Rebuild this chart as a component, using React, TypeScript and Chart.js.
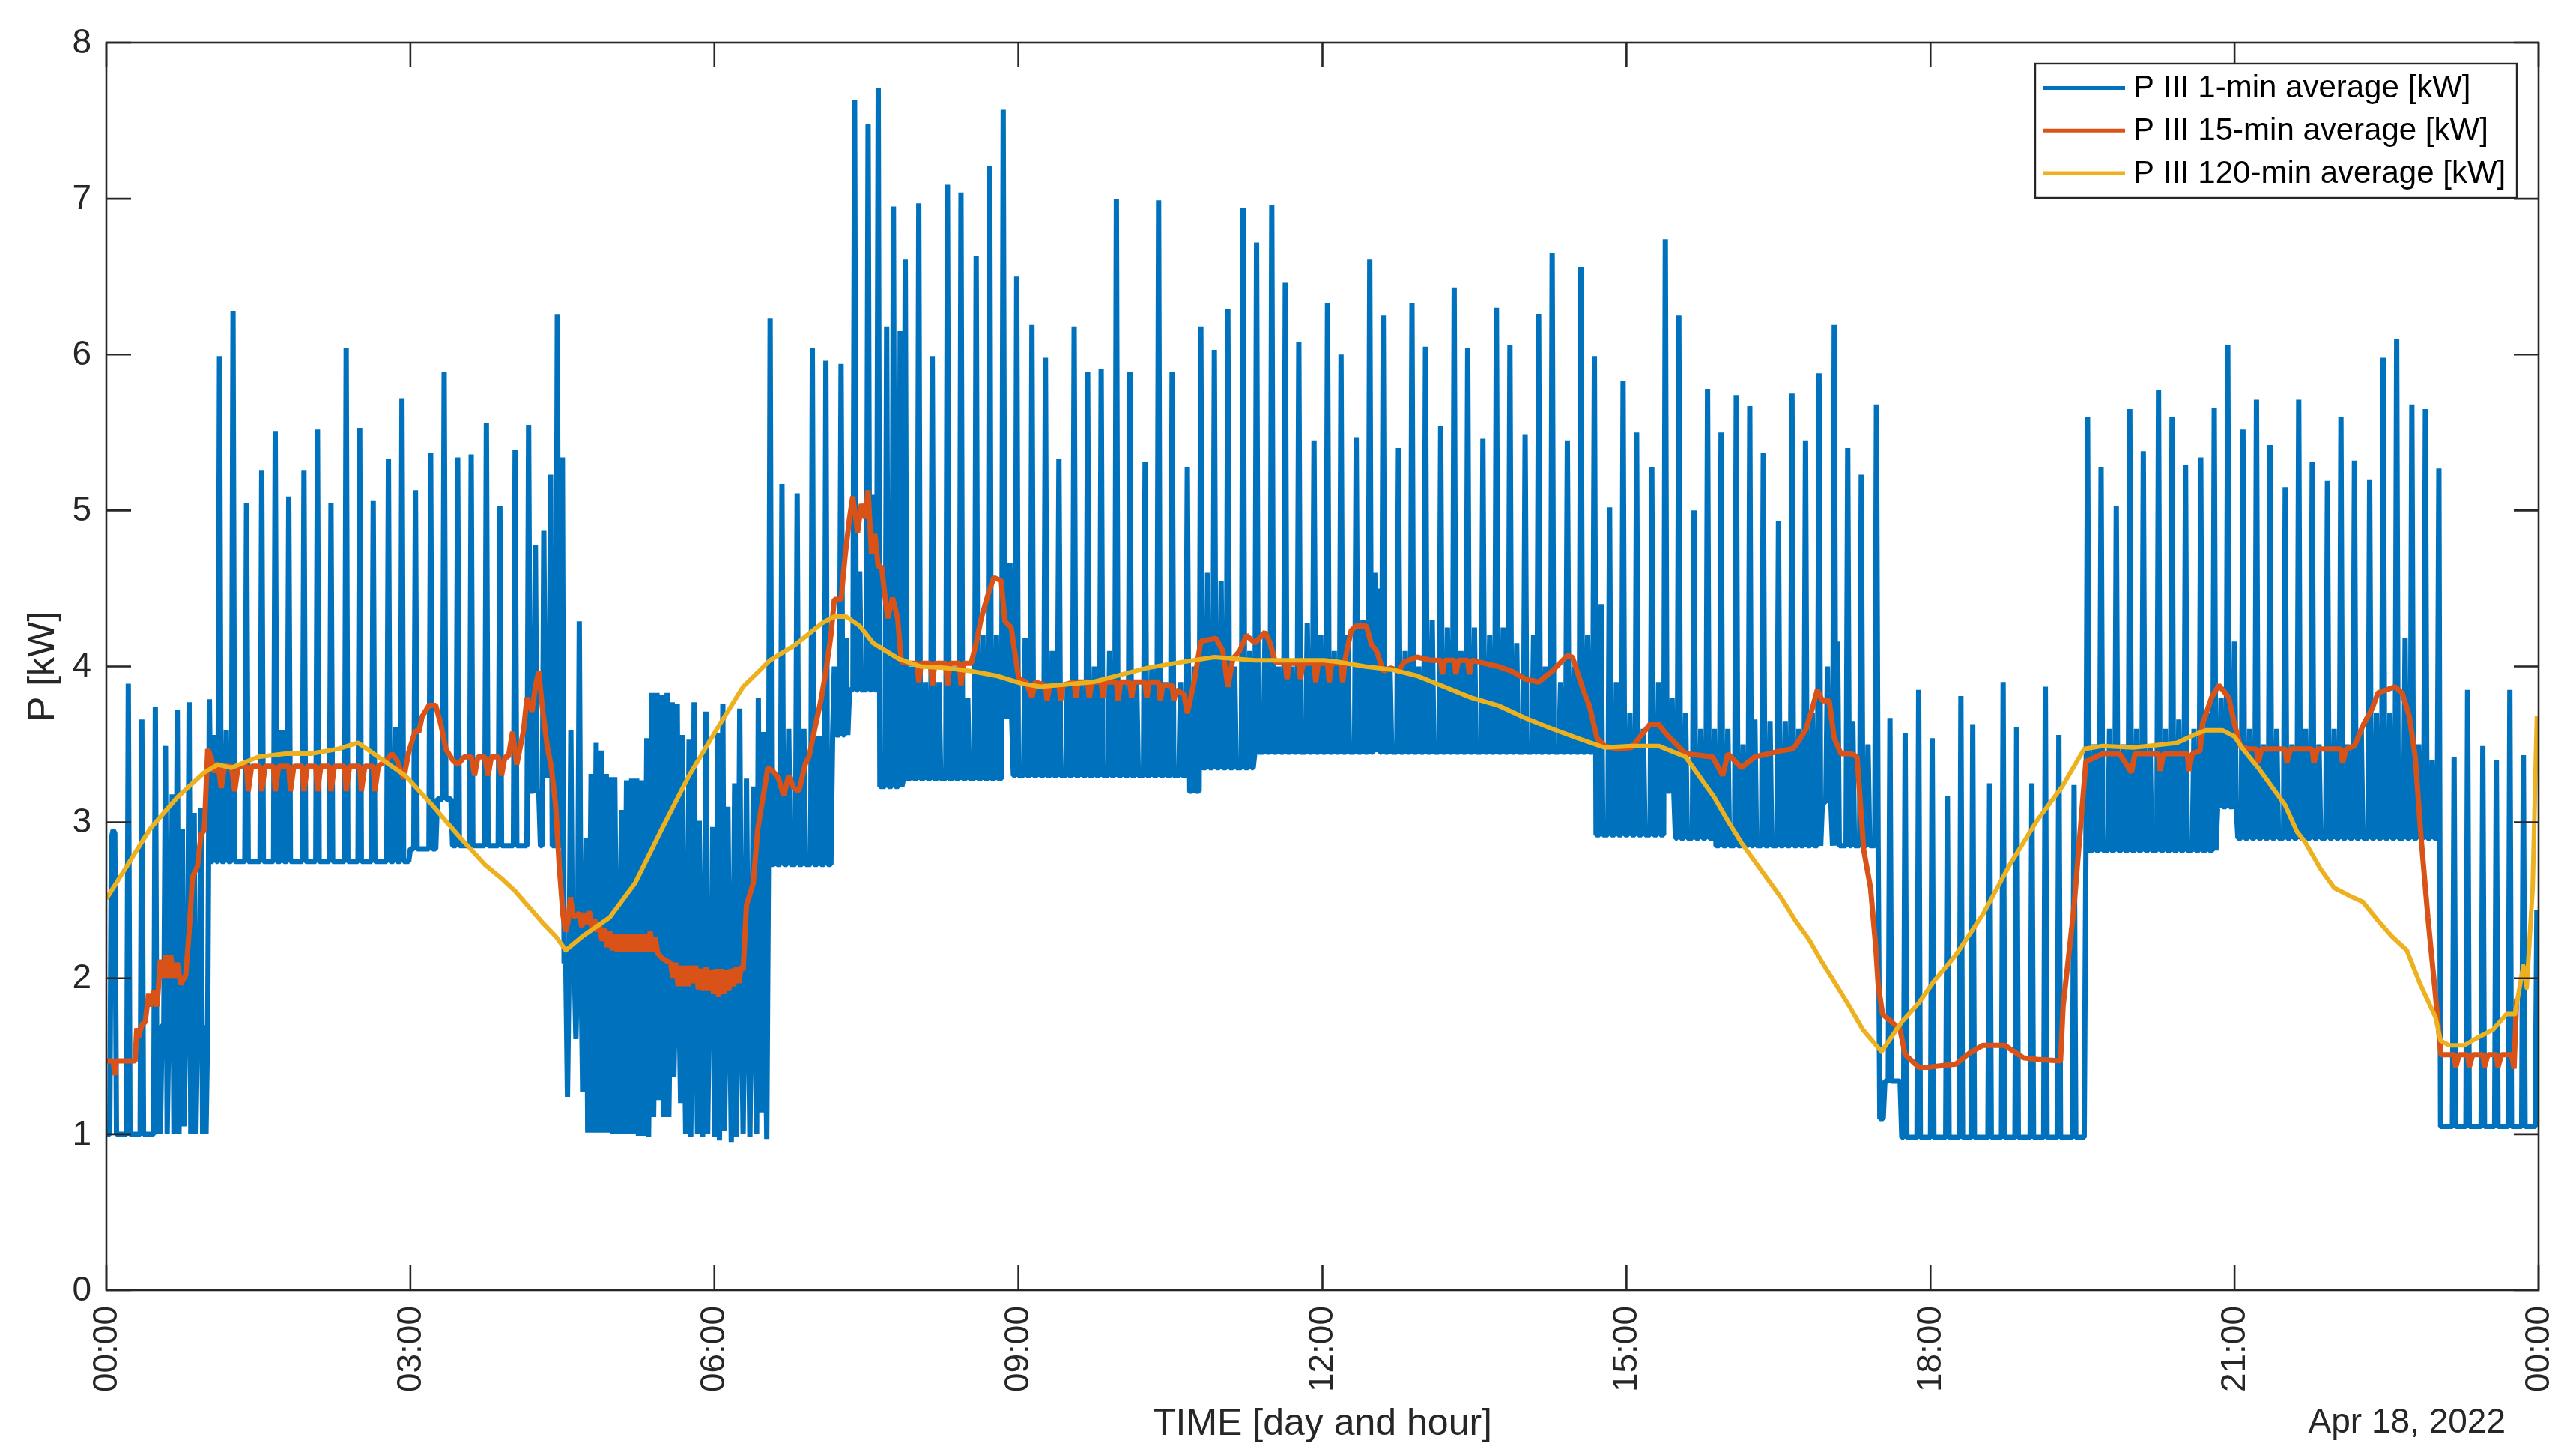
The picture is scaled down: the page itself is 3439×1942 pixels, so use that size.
import React, { useEffect, useRef } from "react";
import { Chart, registerables } from "chart.js";

Chart.register(...registerables);

const W = 3439;
const H = 1942;

// ---------- axis / text data ----------
const X_TICKS = [0, 180, 360, 540, 720, 900, 1080, 1260, 1440];
const X_TICK_LABELS = ["00:00", "03:00", "06:00", "09:00", "12:00", "15:00", "18:00", "21:00", "00:00"];
const Y_TICKS = [0, 1, 2, 3, 4, 5, 6, 7, 8];
const SERIES_LABELS = [
  "P III 1-min average [kW]",
  "P III 15-min average [kW]",
  "P III 120-min average [kW]",
];
const X_TITLE = "TIME [day and hour]";
const Y_TITLE = "P [kW]";
const DATE_LABEL = "Apr 18, 2022";

// ---------- 1-min series: baseline levels (minute where level starts) ----------
const BASE_START = [0, 31, 61, 180, 196, 205, 251, 257, 259, 263, 271, 320, 392, 430, 440, 458, 472, 531, 537, 640, 648, 680, 882, 924, 929, 952, 1016, 1022, 1050, 1053, 1063, 1172, 1250, 1262, 1382];
const BASE_LEVEL = [1.0, 1.7, 2.75, 2.83, 3.15, 2.85, 3.2, 2.85, 3.3, 2.85, 2.1, 1.9, 2.73, 3.56, 3.85, 3.23, 3.28, 3.68, 3.3, 3.2, 3.35, 3.45, 2.92, 3.2, 2.9, 2.85, 3.13, 2.85, 1.1, 1.34, 0.98, 2.82, 3.1, 2.9, 1.05];

// ---------- 1-min series: spike peaks ----------
const SPIKE_MIN = [
  3, 4, 5, 13, 21, 29, 35, 39, 42, 45, 49, 52, 56, 61,
  64, 67, 71, 75, 83, 92, 100, 104, 108, 117, 125, 133, 142, 150, 158, 167, 171, 175, 183, 192, 200, 208, 216, 225, 233, 242, 250, 254, 259, 263, 267, 270,
  275, 280, 284, 287, 290, 293, 296, 299, 301, 305, 308, 311, 314, 317, 320, 323, 326, 329, 332, 335, 338, 341, 345, 348, 351, 355, 359, 362, 365, 368, 372, 375, 379, 383, 386, 389,
  393, 396, 400, 404, 409, 413, 418, 422, 426, 431, 435, 438, 443, 446, 451, 454, 457, 462, 466, 470, 473, 477, 481, 485,
  489, 493, 498, 502, 506, 510, 515, 519, 523, 527, 531, 535, 539, 544, 548, 552, 556, 560, 564, 569, 573, 577, 581, 585, 589, 594, 598, 602, 606, 610, 615, 619, 623, 627, 631, 636, 640, 644, 648, 652, 656, 660, 664, 668, 673, 677, 681, 686, 690, 694, 698, 702, 706, 711, 715, 719, 723, 727, 731, 735, 740, 744, 748, 751, 753, 756, 760, 765, 769, 773, 777, 781, 785, 790, 794, 798, 802, 806, 810, 815, 819, 823, 827, 831, 835, 840, 845, 848, 852, 856, 861, 865, 869, 873, 877, 881,
  885, 890, 894, 898, 902, 906, 910, 915, 919, 923, 927, 931, 935, 940, 944, 948, 952, 956, 960, 965, 969, 973, 976, 981, 985, 990, 994, 998, 1002, 1006, 1010, 1014, 1019, 1023, 1025, 1031, 1034, 1039, 1043, 1048,
  1056, 1065, 1073, 1081, 1090, 1098, 1105, 1115, 1123, 1131, 1140, 1148, 1156, 1165,
  1173, 1177, 1181, 1186, 1190, 1194, 1198, 1202, 1206, 1210, 1215, 1219, 1223, 1227, 1231, 1236, 1240, 1244, 1248, 1252, 1256, 1260, 1265, 1269, 1273, 1277, 1281, 1285, 1290, 1294, 1298, 1302, 1306, 1310, 1315, 1319, 1323, 1327, 1331, 1335, 1340, 1344, 1348, 1352, 1356, 1361, 1365, 1369, 1373, 1377, 1381,
  1390, 1398, 1407, 1415, 1423, 1431, 1439,
];
const SPIKE_VAL = [
  2.9, 2.95, 2.93, 3.89, 3.66, 3.74, 3.49, 3.18, 3.72, 2.96, 3.77, 3.06, 3.09, 3.79,
  3.56, 5.99, 3.59, 6.28, 5.05, 5.26, 5.51, 3.59, 5.09, 5.26, 5.52, 5.05, 6.04, 5.53, 5.06, 5.33, 3.61, 5.72, 5.13, 5.37, 5.89, 5.34, 5.36, 5.56, 5.03, 5.39, 5.55, 4.78, 4.87, 5.23, 6.26, 5.34,
  3.59, 4.29, 2.9, 3.31, 3.51, 3.46, 3.31, 3.29, 3.29, 3.08, 3.27, 3.28, 3.28, 3.27, 3.54, 3.83, 3.83, 3.82, 3.83, 3.77, 3.76, 3.56, 3.53, 3.77, 3.01, 3.71, 2.97, 3.57, 3.76, 3.1, 3.25, 3.73, 3.28, 3.23, 3.8, 3.58,
  6.23, 3.3, 5.17, 3.6, 5.11, 3.6, 6.04, 3.55, 5.96, 4.0, 5.94, 4.18, 7.63, 4.61, 7.48, 5.1, 7.71, 6.18, 6.95, 6.15, 6.61, 4.0, 6.97, 3.9,
  5.99, 3.9, 7.09, 4.0, 7.04, 3.8, 6.63, 4.2, 7.21, 4.2, 7.57, 4.66, 6.5, 4.18, 6.19, 3.9, 5.98, 4.1, 5.33, 3.9, 6.18, 3.9, 5.89, 4.0, 5.91, 4.1, 7.0, 3.9, 5.89, 3.9, 5.31, 4.0, 6.99, 3.9, 5.89, 3.9, 5.28, 4.0, 6.18, 4.6, 6.03, 4.55, 6.29, 4.0, 6.94, 4.1, 6.72, 4.2, 6.96, 4.0, 6.46, 4.0, 6.08, 4.28, 5.45, 4.2, 6.33, 4.1, 6.0, 4.2, 5.47, 4.3, 6.61, 4.6, 4.5, 6.25, 4.0, 5.4, 4.1, 6.33, 4.0, 6.05, 4.3, 5.54, 4.25, 6.43, 4.1, 6.04, 4.25, 5.46, 4.2, 6.3, 4.25, 6.06, 4.15, 5.49, 4.2, 6.26, 4.0, 6.65, 3.9, 5.45, 4.0, 6.56, 4.2, 5.99,
  4.4, 5.02, 3.9, 5.83, 3.7, 5.5, 3.6, 5.28, 3.9, 6.74, 3.8, 6.25, 3.7, 5.0, 3.6, 5.78, 3.6, 5.5, 3.6, 5.74, 3.5, 5.67, 3.66, 5.37, 3.65, 4.93, 3.65, 5.75, 3.6, 5.45, 3.7, 5.88, 4.0, 6.19, 4.16, 5.4, 3.65, 5.23, 3.5, 5.68,
  3.67, 3.57, 3.85, 3.54, 3.17, 3.81, 3.63, 3.25, 3.9, 3.61, 3.25, 3.87, 3.56, 3.24,
  5.6, 3.5, 5.28, 3.6, 5.03, 3.5, 5.65, 3.6, 5.38, 3.5, 5.77, 3.6, 5.6, 3.66, 5.29, 3.6, 5.34, 3.7, 5.66, 3.8, 6.06, 4.16, 5.52, 3.6, 5.71, 3.5, 5.42, 3.6, 5.15, 3.5, 5.71, 3.6, 5.31, 3.5, 5.19, 3.6, 5.6, 3.5, 5.32, 3.6, 5.2, 3.7, 5.98, 3.7, 6.1, 4.18, 5.68, 3.5, 5.65, 3.4, 5.27,
  3.42, 3.85, 3.49, 3.4, 3.85, 3.43, 2.44,
];

// ---------- 1-min series: downward dips ----------
const DIP_MIN = [32, 36, 40, 43, 46, 50, 53, 57, 59, 273, 278, 282, 285, 288, 291, 294, 297, 300, 303, 306, 309, 312, 315, 318, 321, 324, 327, 330, 333, 336, 340, 343, 346, 350, 353, 356, 360, 363, 366, 370, 373, 377, 381, 385, 388, 391];
const DIP_VAL = [1.0, 1.0, 1.0, 1.0, 1.05, 1.0, 1.0, 1.0, 1.0, 1.24, 1.61, 1.27, 1.01, 1.01, 1.01, 1.01, 1.01, 1.0, 1.0, 1.0, 1.0, 1.0, 0.99, 0.99, 0.98, 1.11, 1.22, 1.11, 1.11, 1.37, 1.2, 1.0, 0.98, 1.0, 0.98, 1.0, 0.98, 0.96, 1.02, 0.95, 0.98, 1.0, 0.98, 1.0, 1.14, 0.97];

// ---------- 15-min average (vertices) ----------
const RED_MIN = [
  0, 4, 5, 6, 17, 18, 19, 21, 23, 25, 26, 28, 30, 32, 34, 35, 37, 38, 40, 42, 44, 47, 49, 51, 54, 56, 58, 60, 62, 64, 66, 68, 70, 74, 76, 78, 83, 84, 86, 91, 92, 94, 99, 100, 102, 108, 109, 111, 116, 117, 119, 124, 125, 127, 132, 133, 135, 141, 142, 144, 150, 151, 153, 158, 159, 161, 166, 169, 172, 176, 179, 183, 185, 187, 191, 195, 198, 201, 205, 208, 212, 216, 218, 220, 224, 226, 228, 232, 234, 236, 238, 240.5, 243, 247, 249, 252, 254, 256, 258, 261, 263.5, 266, 268.2, 270.4, 271.8, 273.3, 274.8, 276.3,
  278, 280, 281.5, 283, 284.5, 286, 287.5, 289, 290.5, 292, 293.5, 295, 296.5, 298, 299.5, 301, 302.5, 304, 305.5, 307, 308.5, 310, 311.5, 313, 314.5, 316, 317.5, 319, 320.5, 322, 323.5, 325, 326.5, 329, 332, 334, 335.5, 337, 338.5, 340, 341.5, 343, 344.5, 346, 347.5, 349, 350.5, 352, 353.5, 355, 356.5, 358, 359.5, 361, 362.5, 364, 365.5, 367, 368.5, 370, 371.5, 373, 374.5, 376, 377,
  379, 383, 385.7, 389.4, 391.6, 395.3, 398, 401, 404, 407, 410, 414, 416, 420, 423, 426, 429, 431, 435, 437.4, 440, 441.9, 444.8, 447, 449.3, 451, 453, 455, 457, 459, 461, 462.6, 465.5, 468.5, 470.7,
  475, 480, 481, 482.5, 488, 489, 490.5, 497, 498, 499.5, 505, 506, 507.5, 512, 515, 518, 522, 525.4, 529.8, 532, 535.7, 540.2, 544.6, 548, 550, 556, 557, 558.5, 564, 565, 566.5, 573, 574, 575.5, 581, 582, 583.5, 589, 590, 591.5, 598, 599, 600.5, 606, 607, 608.5, 615, 616, 617.5, 623, 624, 625.5, 631, 632, 633.5, 638, 640, 644, 648, 652, 657, 661, 664, 667, 671, 675, 680, 686, 689, 692, 698, 699, 700.5, 706, 707, 708.5, 715, 716, 717.5, 723, 724, 725.5, 731, 732, 733.5, 737, 740, 746, 749, 752, 756, 760.6, 765, 768.5, 776, 784, 790, 791, 792.5, 798, 799, 800.5, 806, 807, 808.5, 816, 824, 832, 840, 848, 856, 865, 868, 875, 878, 882.6, 887, 895, 903, 914, 919, 924, 935, 951, 957, 960, 968, 976, 984, 992, 998, 1000, 1006, 1010, 1013, 1016, 1020, 1023, 1027, 1033, 1036.5, 1040.5, 1044.5, 1047.6, 1049, 1051.6, 1057, 1062, 1065, 1073, 1079, 1095, 1103, 1111, 1124, 1135, 1143, 1157, 1158.5, 1164.8, 1172, 1182, 1192, 1199, 1201, 1215, 1216, 1218, 1232, 1233, 1235, 1239.6, 1241, 1246.4, 1250.7, 1253, 1256.6, 1260, 1263.4, 1268, 1273, 1274, 1276, 1290, 1291, 1293, 1306, 1307, 1309, 1323, 1324, 1326, 1331, 1336.4, 1341.5, 1344.9, 1350, 1355, 1359.3, 1363.5, 1367, 1370.3, 1374.5, 1378.8, 1382.2, 1390, 1391, 1393, 1398, 1399, 1401, 1407, 1408, 1410, 1415, 1416, 1418, 1424, 1425.5, 1427,
];
const RED_VAL = [
  1.47, 1.47, 1.38, 1.47, 1.47, 1.68, 1.62, 1.7, 1.72, 1.9, 1.82, 1.92, 1.82, 2.12, 2.0, 2.15, 2.0, 2.15, 2.0, 2.1, 1.96, 2.02, 2.3, 2.65, 2.72, 2.92, 2.95, 3.47, 3.42, 3.32, 3.38, 3.22, 3.36, 3.36, 3.2, 3.36, 3.36, 3.2, 3.36, 3.36, 3.2, 3.36, 3.36, 3.2, 3.36, 3.36, 3.2, 3.36, 3.36, 3.2, 3.36, 3.36, 3.2, 3.36, 3.36, 3.2, 3.36, 3.36, 3.2, 3.36, 3.36, 3.2, 3.36, 3.36, 3.2, 3.36, 3.4, 3.44, 3.4, 3.28, 3.45, 3.59, 3.58, 3.68, 3.75, 3.75, 3.63, 3.47, 3.4, 3.37, 3.42, 3.42, 3.3, 3.42, 3.42, 3.3, 3.42, 3.42, 3.3, 3.42, 3.42, 3.58, 3.37, 3.59, 3.8, 3.71, 3.87, 3.97, 3.75, 3.49, 3.35, 3.11, 2.71, 2.4, 2.3, 2.36, 2.52, 2.4,
  2.4, 2.42, 2.33, 2.42, 2.35, 2.43, 2.32, 2.38, 2.3, 2.34, 2.24, 2.32, 2.2, 2.3, 2.18, 2.28, 2.17, 2.28, 2.17, 2.28, 2.17, 2.28, 2.17, 2.28, 2.17, 2.28, 2.17, 2.28, 2.17, 2.3, 2.17, 2.26, 2.16, 2.13, 2.11, 2.1, 2.0, 2.1, 1.95, 2.08, 1.95, 2.08, 1.95, 2.08, 1.97, 2.08, 1.93, 2.06, 1.92, 2.07, 1.92, 2.05, 1.9, 2.06, 1.88, 2.06, 1.9, 2.05, 1.92, 2.06, 1.95, 2.07, 1.97, 2.08, 2.05,
  2.47, 2.61, 2.96, 3.2, 3.35, 3.32, 3.28, 3.17, 3.3, 3.22, 3.2, 3.38, 3.42, 3.63, 3.78, 3.97, 4.2, 4.43, 4.43, 4.71, 4.95, 5.09, 4.86, 5.04, 4.95, 5.13, 4.72, 4.85, 4.64, 4.64, 4.45, 4.31, 4.44, 4.31, 4.03,
  4.02, 4.02, 3.9, 4.02, 4.02, 3.88, 4.02, 4.02, 3.88, 4.02, 4.02, 3.88, 4.02, 4.02, 4.15, 4.31, 4.46, 4.57, 4.55, 4.29, 4.25, 3.92, 3.9, 3.8, 3.9, 3.88, 3.78, 3.88, 3.88, 3.78, 3.88, 3.9, 3.8, 3.9, 3.9, 3.8, 3.9, 3.9, 3.8, 3.9, 3.9, 3.78, 3.9, 3.9, 3.8, 3.9, 3.9, 3.8, 3.9, 3.9, 3.78, 3.88, 3.88, 3.78, 3.85, 3.82, 3.7, 3.9, 4.16, 4.17, 4.18, 4.1, 3.87, 4.05, 4.1, 4.2, 4.15, 4.22, 4.15, 4.03, 4.02, 3.92, 4.02, 4.02, 3.92, 4.02, 4.02, 3.9, 4.02, 4.02, 3.9, 4.02, 4.02, 3.9, 4.05, 4.23, 4.26, 4.26, 4.14, 4.1, 3.97, 3.99, 3.97, 4.03, 4.06, 4.04, 4.04, 3.95, 4.04, 4.04, 3.95, 4.04, 4.04, 3.95, 4.04, 4.02, 4.0, 3.97, 3.92, 3.9, 3.97, 4.07, 4.06, 3.83, 3.75, 3.54, 3.49, 3.47, 3.48, 3.63, 3.63, 3.56, 3.44, 3.42, 3.3, 3.44, 3.35, 3.42, 3.44, 3.46, 3.47, 3.49, 3.59, 3.73, 3.85, 3.78, 3.78, 3.54, 3.44, 3.44, 3.42, 2.82, 2.58, 2.2, 1.96, 1.77, 1.72, 1.67, 1.51, 1.43, 1.43, 1.45, 1.52, 1.57, 1.57, 1.49, 1.48, 1.47, 1.82, 2.44, 3.39, 3.44, 3.44, 3.32, 3.44, 3.44, 3.33, 3.44, 3.44, 3.33, 3.44, 3.46, 3.63, 3.8, 3.88, 3.85, 3.8, 3.63, 3.49, 3.47, 3.47, 3.38, 3.47, 3.47, 3.38, 3.47, 3.47, 3.38, 3.47, 3.47, 3.38, 3.47, 3.49, 3.63, 3.73, 3.83, 3.85, 3.87, 3.83, 3.68, 3.42, 2.92, 2.39, 1.91, 1.51, 1.51, 1.43, 1.51, 1.51, 1.43, 1.51, 1.51, 1.43, 1.51, 1.51, 1.43, 1.51, 1.51, 1.42, 1.87,
];

// ---------- 120-min average (vertices) ----------
const YEL_MIN = [0, 11, 26, 42, 58, 66, 74, 90, 106, 121, 137, 149, 161, 177, 193, 208, 224, 234, 242, 250, 258, 266, 272, 282, 298, 313, 329, 345, 361, 377, 393, 408, 416, 424, 431, 438, 446, 454, 460, 469, 482, 497, 512, 527, 542, 553, 584, 616, 632, 656, 680, 721, 729, 745, 761, 776, 792, 808, 824, 840, 856, 871, 887, 903, 919, 935, 952, 960, 968, 976, 984, 992, 1000, 1008, 1016, 1024, 1032, 1040, 1051, 1063, 1073, 1082, 1095, 1111, 1127, 1143, 1158, 1171, 1182, 1200, 1209, 1226, 1236, 1243, 1253, 1260, 1265, 1274, 1282, 1290, 1297, 1302, 1311, 1319, 1328, 1336, 1345, 1353, 1362, 1370, 1379, 1382, 1387, 1396, 1404, 1413, 1421, 1426, 1431, 1433, 1436.5, 1439];
const YEL_VAL = [2.51, 2.7, 2.96, 3.16, 3.32, 3.37, 3.35, 3.42, 3.44, 3.44, 3.47, 3.51, 3.42, 3.3, 3.11, 2.92, 2.73, 2.64, 2.56, 2.46, 2.36, 2.27, 2.18, 2.27, 2.39, 2.61, 2.96, 3.3, 3.59, 3.87, 4.04, 4.14, 4.21, 4.28, 4.32, 4.32, 4.26, 4.15, 4.11, 4.05, 4.0, 3.99, 3.97, 3.94, 3.89, 3.87, 3.9, 3.99, 4.02, 4.06, 4.04, 4.04, 4.03, 4.0, 3.98, 3.94, 3.87, 3.8, 3.75, 3.67, 3.6, 3.54, 3.48, 3.49, 3.49, 3.42, 3.16, 3.01, 2.87, 2.75, 2.63, 2.51, 2.37, 2.25, 2.1, 1.96, 1.82, 1.67, 1.53, 1.72, 1.84, 1.98, 2.15, 2.41, 2.73, 3.01, 3.23, 3.47, 3.49, 3.48, 3.49, 3.51, 3.56, 3.59, 3.59, 3.55, 3.47, 3.35, 3.23, 3.11, 2.94, 2.87, 2.7, 2.58, 2.53, 2.49, 2.37, 2.27, 2.18, 1.96, 1.75, 1.6, 1.57, 1.57, 1.62, 1.67, 1.77, 1.77, 2.08, 1.94, 2.58, 3.68];

const COLORS = ["#0072BD", "#D95319", "#EDB120"];
const AXIS_COLOR = "#262626";
const FONT = '"Liberation Sans", Arial, Helvetica, sans-serif';

function levelAt(m: number): number {
  let lv = BASE_LEVEL[0];
  for (let i = 0; i < BASE_START.length; i++) {
    if (BASE_START[i] <= m) lv = BASE_LEVEL[i];
    else break;
  }
  return lv;
}

function buildOneMin() {
  const vals: number[] = [];
  for (let m = 0; m < 1440; m++) vals.push(levelAt(m));
  SPIKE_MIN.forEach((m, i) => { vals[m] = SPIKE_VAL[i]; });
  DIP_MIN.forEach((m, i) => { vals[m] = DIP_VAL[i]; });
  return vals.map((v, m) => ({ x: m, y: v }));
}

const zip = (xs: number[], ys: number[]) => xs.map((x, i) => ({ x, y: ys[i] }));

const framePlugin = {
  id: "matlabFrame",
  afterDraw(chart: any) {
    const { ctx, chartArea } = chart;
    const { left, right, top, bottom } = chartArea;
    const xs = chart.scales.x;
    const ys = chart.scales.y;
    const TL = 33;
    ctx.save();
    ctx.strokeStyle = AXIS_COLOR;
    ctx.lineWidth = 2.6;
    ctx.lineCap = "butt";
    ctx.beginPath();
    for (const t of X_TICKS) {
      const px = xs.getPixelForValue(t);
      ctx.moveTo(px, bottom); ctx.lineTo(px, bottom - TL);
      ctx.moveTo(px, top); ctx.lineTo(px, top + TL);
    }
    for (const v of Y_TICKS) {
      const py = ys.getPixelForValue(v);
      ctx.moveTo(left, py); ctx.lineTo(left + TL, py);
      ctx.moveTo(right, py); ctx.lineTo(right - TL, py);
    }
    ctx.stroke();
    ctx.strokeRect(left, top, right - left, bottom - top);

    // y tick labels
    ctx.fillStyle = AXIS_COLOR;
    ctx.font = `46px ${FONT}`;
    ctx.textAlign = "right";
    ctx.textBaseline = "middle";
    for (const v of Y_TICKS) {
      ctx.fillText(String(v), left - 20, ys.getPixelForValue(v) + 1);
    }
    // x tick labels (rotated)
    X_TICKS.forEach((t, i) => {
      const px = xs.getPixelForValue(t);
      ctx.save();
      ctx.translate(px + 1, bottom + 21);
      ctx.rotate(-Math.PI / 2);
      ctx.textAlign = "right";
      ctx.textBaseline = "middle";
      ctx.fillText(X_TICK_LABELS[i], 0, 0);
      ctx.restore();
    });
    // date
    ctx.textAlign = "right";
    ctx.textBaseline = "alphabetic";
    ctx.fillText(DATE_LABEL, right - 44, 1912);
    // x title
    ctx.font = `50px ${FONT}`;
    ctx.textAlign = "center";
    ctx.textBaseline = "middle";
    ctx.fillText(X_TITLE, (left + right) / 2, 1901);
    // y title
    ctx.save();
    ctx.translate(72, (top + bottom) / 2);
    ctx.rotate(-Math.PI / 2);
    ctx.textAlign = "center";
    ctx.textBaseline = "alphabetic";
    ctx.fillText(Y_TITLE, 0, 0);
    ctx.restore();

    // legend
    const lx = 2717, ly = 85, lw = 643, lh = 179;
    ctx.fillStyle = "#ffffff";
    ctx.fillRect(lx, ly, lw, lh);
    ctx.strokeStyle = AXIS_COLOR;
    ctx.lineWidth = 2.4;
    ctx.strokeRect(lx, ly, lw, lh);
    const rows = [117.6, 174.3, 231];
    ctx.font = `42px ${FONT}`;
    ctx.textAlign = "left";
    ctx.textBaseline = "middle";
    SERIES_LABELS.forEach((lab, i) => {
      ctx.strokeStyle = COLORS[i];
      ctx.lineWidth = 5;
      ctx.beginPath();
      ctx.moveTo(2727, rows[i]);
      ctx.lineTo(2837, rows[i]);
      ctx.stroke();
      ctx.fillStyle = "#000000";
      ctx.fillText(lab, 2848, rows[i] + 1);
    });
    ctx.restore();
  },
};

export default function App() {
  const ref = useRef<HTMLCanvasElement | null>(null);
  useEffect(() => {
    document.body.style.margin = "0";
    const canvas = ref.current;
    if (!canvas) return;
    const chart = new Chart(canvas, {
      type: "line",
      data: {
        datasets: [
          {
            label: SERIES_LABELS[0],
            data: buildOneMin(),
            borderColor: COLORS[0],
            borderWidth: 7,
            pointRadius: 0,
            tension: 0,
            borderJoinStyle: "bevel",
            order: 3,
          },
          {
            label: SERIES_LABELS[1],
            data: zip(RED_MIN, RED_VAL),
            borderColor: COLORS[1],
            borderWidth: 7,
            pointRadius: 0,
            tension: 0,
            borderJoinStyle: "bevel",
            order: 2,
          },
          {
            label: SERIES_LABELS[2],
            data: zip(YEL_MIN, YEL_VAL),
            borderColor: COLORS[2],
            borderWidth: 6,
            pointRadius: 0,
            tension: 0,
            borderJoinStyle: "round",
            order: 1,
          },
        ],
      },
      options: {
        animation: false,
        responsive: false,
        devicePixelRatio: 1,
        parsing: false,
        events: [],
        layout: { padding: { left: 142, top: 57, right: 50, bottom: 220 } },
        scales: {
          x: { type: "linear", min: 0, max: 1440, display: false },
          y: { type: "linear", min: 0, max: 8, display: false },
        },
        plugins: { legend: { display: false }, tooltip: { enabled: false } },
      } as any,
      plugins: [framePlugin],
    });
    return () => chart.destroy();
  }, []);
  return (
    <div style={{ width: W, height: H, background: "#ffffff" }}>
      <canvas ref={ref} width={W} height={H} style={{ display: "block", width: W, height: H }} />
    </div>
  );
}
